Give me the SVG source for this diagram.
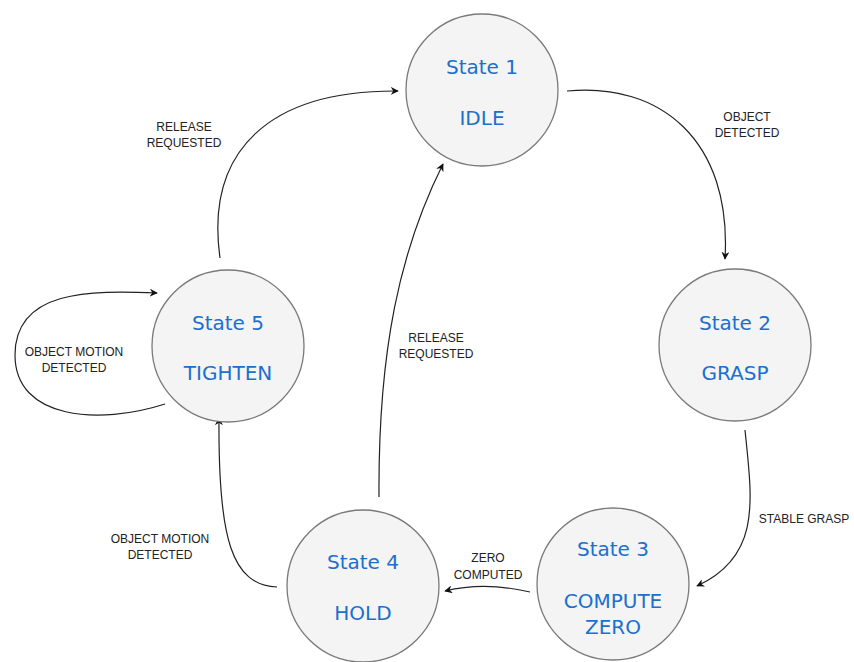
<svg xmlns="http://www.w3.org/2000/svg" width="854" height="662" viewBox="0 0 854 662">
<style>
.node{fill:#f4f4f4;stroke:#7a7a7a;stroke-width:1.3}
.t{font-family:"DejaVu Sans",Verdana,sans-serif;font-size:20px;fill:#1a6fcf;text-anchor:middle}
.e{fill:none;stroke:#222;stroke-width:1.2;marker-end:url(#ah)}
.l{font-family:"Liberation Sans",Arial,sans-serif;font-size:12px;fill:#222;text-anchor:middle}
</style>
<defs>
<marker id="ah" viewBox="0 0 10 10" refX="9" refY="5" markerWidth="8" markerHeight="8" markerUnits="userSpaceOnUse" orient="auto">
<path d="M0,0 L10,5 L0,10 L3,5 Z" fill="#111"/>
</marker>
</defs>
<rect width="854" height="662" fill="#ffffff"/>
<g id="connectors">
<path class="e" d="M567,91 C660,82 732,140 725,259"/>
<path class="e" d="M745,430 C752,500 762,556 697,586"/>
<path class="e" d="M530,592 C500,585 470,585 445,591"/>
<path class="e" d="M277,587 C232,585 218,540 219,418"/>
<path class="e" d="M379,497 C378,350 400,250 443,164"/>
<path class="e" d="M220,258 C205,150 270,90 398,91"/>
<path class="e" d="M165,404 C100,425 15,420 15,355 C15,290 90,290 157,293"/>
</g>
<g id="labels">
<text class="l" x="747" y="121">OBJECT</text>
<text class="l" x="747" y="137">DETECTED</text>
<text class="l" x="804" y="523">STABLE GRASP</text>
<text class="l" x="488" y="562">ZERO</text>
<text class="l" x="488" y="579">COMPUTED</text>
<text class="l" x="160" y="543">OBJECT MOTION</text>
<text class="l" x="160" y="559">DETECTED</text>
<text class="l" x="436" y="342">RELEASE</text>
<text class="l" x="436" y="358">REQUESTED</text>
<text class="l" x="184" y="131">RELEASE</text>
<text class="l" x="184" y="147">REQUESTED</text>
<text class="l" x="74" y="356">OBJECT MOTION</text>
<text class="l" x="74" y="372">DETECTED</text>
</g>
<g id="state1">
<circle class="node" cx="482" cy="90" r="76"/>
<text class="t" x="482" y="74">State 1</text>
<text class="t" x="482" y="125">IDLE</text>
</g>
<g id="state2">
<circle class="node" cx="735" cy="345" r="76"/>
<text class="t" x="735" y="330">State 2</text>
<text class="t" x="735" y="380">GRASP</text>
</g>
<g id="state3">
<circle class="node" cx="613" cy="584" r="76"/>
<text class="t" x="613" y="556">State 3</text>
<text class="t" x="613" y="608">COMPUTE</text>
<text class="t" x="613" y="634">ZERO</text>
</g>
<g id="state4">
<circle class="node" cx="363" cy="586" r="76"/>
<text class="t" x="363" y="569">State 4</text>
<text class="t" x="363" y="620">HOLD</text>
</g>
<g id="state5">
<circle class="node" cx="228" cy="346" r="76"/>
<text class="t" x="228" y="330">State 5</text>
<text class="t" x="228" y="380">TIGHTEN</text>
</g>
</svg>
